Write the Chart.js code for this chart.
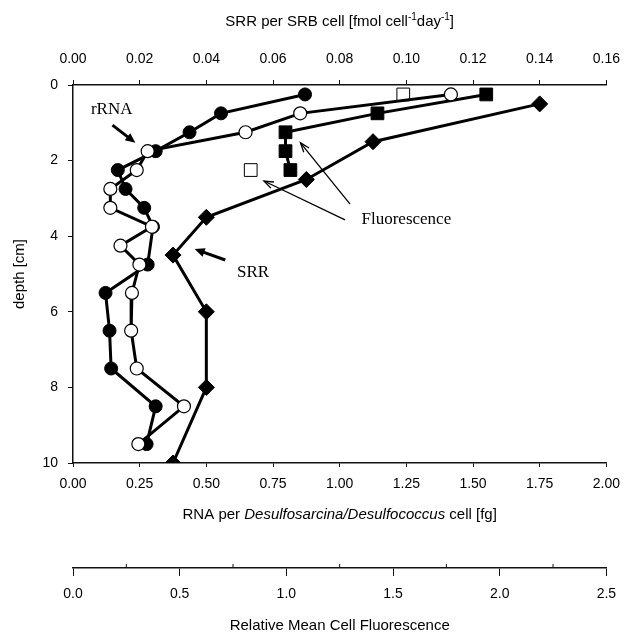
<!DOCTYPE html>
<html>
<head>
<meta charset="utf-8">
<script src="https://cdn.jsdelivr.net/npm/chart.js@4.4.0/dist/chart.umd.min.js"></script>
<style>
  html,body{margin:0;padding:0;background:#fff;}
  canvas{display:block;}
</style>
</head>
<body>
<canvas id="chart" width="632" height="636"></canvas>
<script>
// rRNA per cell [fg] - two profiles
const rnaDepthFilled = [0.25, 0.75, 1.25, 1.75, 2.25, 2.75, 3.25, 3.75, 4.75, 5.5, 6.5, 7.5, 8.5, 9.5];
const rnaFilled      = [0.87, 0.555, 0.437, 0.31, 0.168, 0.197, 0.267, 0.30, 0.28, 0.122, 0.137, 0.143, 0.31, 0.276];
const rnaDepthOpen   = [0.25, 0.75, 1.25, 1.75, 2.25, 2.75, 3.25, 3.75, 4.25, 4.75, 5.5, 6.5, 7.5, 8.5, 9.5];
const rnaOpen        = [1.417, 0.852, 0.647, 0.28, 0.239, 0.14, 0.14, 0.296, 0.178, 0.249, 0.221, 0.218, 0.239, 0.416, 0.245];

// relative mean cell fluorescence
const fluorDepth      = [0.25, 0.75, 1.25, 1.75, 2.25];
const fluorFilled     = [1.937, 1.427, 0.996, 0.996, 1.019];
const fluorDepthOpen  = [0.25, 2.25];
const fluorOpen       = [1.548, 0.833];

// SRR per SRB cell [fmol cell-1 day-1]
const srrDepth = [0.5, 1.5, 2.5, 3.5, 4.5, 6, 8, 10];
const srr      = [0.140, 0.090, 0.070, 0.040, 0.030, 0.040, 0.040, 0.030];

// axis ranges
const rnaMax = 2.0, srrMax = 0.16, fluorMax = 2.5, depthMax = 10;
const fluorMinor = [0.25, 0.75, 1.25, 1.75, 2.25];

const pts = (ys, xs) => xs.map((v, i) => ({x: v, y: ys[i]}));

const SANS = '"Liberation Sans", Arial, sans-serif';
const SERIF = '"Liberation Serif", "Times New Roman", serif';
Chart.defaults.font.family = SANS;
Chart.defaults.color = '#000';

// free text + arrows, placed in RNA / depth units
const labels = [
  {text: 'rRNA', x: 0.145, y: 0.66},
  {text: 'SRR', x: 0.675, y: 4.97},
  {text: 'Fluorescence', x: 1.25, y: 3.57}
];
const arrows = [
  {from: [0.148, 1.06], to: [0.234, 1.53], bold: true},
  {from: [0.571, 4.63], to: [0.456, 4.34], bold: true},
  {from: [1.039, 3.15], to: [0.853, 1.53], bold: false},
  {from: [1.02, 3.57], to: [0.716, 2.54], bold: false}
];

function drawArrow(ctx, x1, y1, x2, y2, bold) {
  const a = Math.atan2(y2 - y1, x2 - x1);
  const head = bold ? 11 : 10;
  const spread = bold ? 0.42 : 0.35;
  ctx.strokeStyle = '#000'; ctx.fillStyle = '#000';
  ctx.lineWidth = bold ? 3 : 1.3;
  ctx.beginPath();
  ctx.moveTo(x1, y1);
  ctx.lineTo(x2 - (bold ? head * 0.7 * Math.cos(a) : 0), y2 - (bold ? head * 0.7 * Math.sin(a) : 0));
  ctx.stroke();
  const p1 = [x2 - head * Math.cos(a - spread), y2 - head * Math.sin(a - spread)];
  const p2 = [x2 - head * Math.cos(a + spread), y2 - head * Math.sin(a + spread)];
  ctx.beginPath();
  ctx.moveTo(p1[0], p1[1]); ctx.lineTo(x2, y2); ctx.lineTo(p2[0], p2[1]);
  if (bold) { ctx.closePath(); ctx.fill(); } else { ctx.lineWidth = 1.3; ctx.stroke(); }
}

function drawRuns(ctx, runs, cx, cy) {
  let total = 0;
  runs.forEach(r => { ctx.font = r.font; total += ctx.measureText(r.t).width; });
  let x = cx - total / 2;
  ctx.textAlign = 'left'; ctx.textBaseline = 'middle'; ctx.fillStyle = '#000';
  runs.forEach(r => {
    ctx.font = r.font;
    ctx.fillText(r.t, x, cy + (r.dy || 0));
    x += ctx.measureText(r.t).width;
  });
}

const extras = {
  id: 'extras',
  afterDraw(chart) {
    const {ctx, chartArea, scales} = chart;
    const sx = scales.x, sy = scales.y, s3 = scales.x3;
    ctx.save();
    const cx = (chartArea.left + chartArea.right) / 2;
    const f = '15px ' + SANS, fs = '10px ' + SANS;
    drawRuns(ctx, [
      {t: 'SRR per SRB cell [fmol cell', font: f},
      {t: '-1', font: fs, dy: -5},
      {t: 'day', font: f},
      {t: '-1', font: fs, dy: -5},
      {t: ']', font: f}
    ], cx, 22);
    drawRuns(ctx, [
      {t: 'RNA per ', font: f},
      {t: 'Desulfosarcina/Desulfococcus', font: 'italic 15px ' + SANS},
      {t: ' cell [fg]', font: f}
    ], cx, 515);

    // minor ticks on the fluorescence axis
    ctx.strokeStyle = '#111'; ctx.lineWidth = 1;
    fluorMinor.forEach(v => {
      const px = s3.getPixelForValue(v);
      ctx.beginPath(); ctx.moveTo(px, s3.top); ctx.lineTo(px, s3.top - 4); ctx.stroke();
    });

    ctx.font = '17px ' + SERIF;
    ctx.textAlign = 'center'; ctx.textBaseline = 'middle'; ctx.fillStyle = '#000';
    labels.forEach(l => ctx.fillText(l.text, sx.getPixelForValue(l.x), sy.getPixelForValue(l.y)));
    arrows.forEach(a => drawArrow(ctx,
      sx.getPixelForValue(a.from[0]), sy.getPixelForValue(a.from[1]),
      sx.getPixelForValue(a.to[0]), sy.getPixelForValue(a.to[1]), a.bold));
    ctx.restore();
  }
};

const axisGrid = len => ({drawOnChartArea: false, drawTicks: true, tickLength: len, color: '#111', lineWidth: 1});
const axisBorder = {display: true, color: '#111', width: 1.5};

new Chart(document.getElementById('chart'), {
  type: 'scatter',
  data: {
    datasets: [
      {label: 'rRNA (open)', data: pts(rnaDepthOpen, rnaOpen), xAxisID: 'x',
        showLine: true, borderColor: '#000', borderWidth: 3,
        pointStyle: 'circle', pointRadius: 6.5, pointBackgroundColor: '#fff', pointBorderColor: '#000', pointBorderWidth: 1.2},
      {label: 'rRNA (filled)', data: pts(rnaDepthFilled, rnaFilled), xAxisID: 'x',
        showLine: true, borderColor: '#000', borderWidth: 3,
        pointStyle: 'circle', pointRadius: 6.5, pointBackgroundColor: '#000', pointBorderColor: '#000', pointBorderWidth: 1},
      {label: 'Fluorescence (open)', data: pts(fluorDepthOpen, fluorOpen), xAxisID: 'x3',
        showLine: false,
        pointStyle: 'rect', pointRadius: 9, pointBackgroundColor: '#fff', pointBorderColor: '#000', pointBorderWidth: 1},
      {label: 'Fluorescence (filled)', data: pts(fluorDepth, fluorFilled), xAxisID: 'x3',
        showLine: true, borderColor: '#000', borderWidth: 3,
        pointStyle: 'rect', pointRadius: 9, pointBackgroundColor: '#000', pointBorderColor: '#000', pointBorderWidth: 1},
      {label: 'SRR', data: pts(srrDepth, srr), xAxisID: 'x2',
        showLine: true, borderColor: '#000', borderWidth: 3,
        pointStyle: 'rectRot', pointRadius: 8, pointBackgroundColor: '#000', pointBorderColor: '#000', pointBorderWidth: 1}
    ]
  },
  options: {
    responsive: false,
    animation: false,
    events: [],
    layout: {padding: {left: 0, right: 20, top: 0, bottom: 0}},
    plugins: {legend: {display: false}, tooltip: {enabled: false}},
    scales: {
      y: {
        type: 'linear', position: 'left', reverse: true, min: 0, max: depthMax,
        ticks: {stepSize: 2, padding: 10, font: {size: 14}, color: '#000'},
        grid: axisGrid(5), border: axisBorder,
        title: {display: true, text: 'depth [cm]', font: {size: 15}, color: '#000', padding: {top: 11, bottom: 0}},
        afterFit(s) { s.width = 73; }
      },
      x2: {
        type: 'linear', position: 'top', min: 0, max: srrMax,
        ticks: {stepSize: 0.02, padding: 12, font: {size: 14}, color: '#000', callback: v => v.toFixed(2)},
        grid: axisGrid(5), border: axisBorder,
        afterFit(s) { s.height = 85; }
      },
      x: {
        type: 'linear', position: 'bottom', min: 0, max: rnaMax, weight: 0,
        ticks: {stepSize: 0.25, padding: 9, font: {size: 14}, color: '#000', callback: v => v.toFixed(2)},
        grid: axisGrid(4), border: axisBorder,
        afterFit(s) { s.height = 105; }
      },
      x3: {
        type: 'linear', position: 'bottom', min: 0, max: fluorMax, weight: 1,
        ticks: {stepSize: 0.5, padding: 10, font: {size: 14}, color: '#000', callback: v => v.toFixed(1)},
        grid: axisGrid(8), border: axisBorder,
        title: {display: true, text: 'Relative Mean Cell Fluorescence', font: {size: 15}, color: '#000', padding: {top: 0, bottom: 1}},
        afterFit(s) { s.height = 68; }
      }
    }
  },
  plugins: [extras]
});
</script>
</body>
</html>
